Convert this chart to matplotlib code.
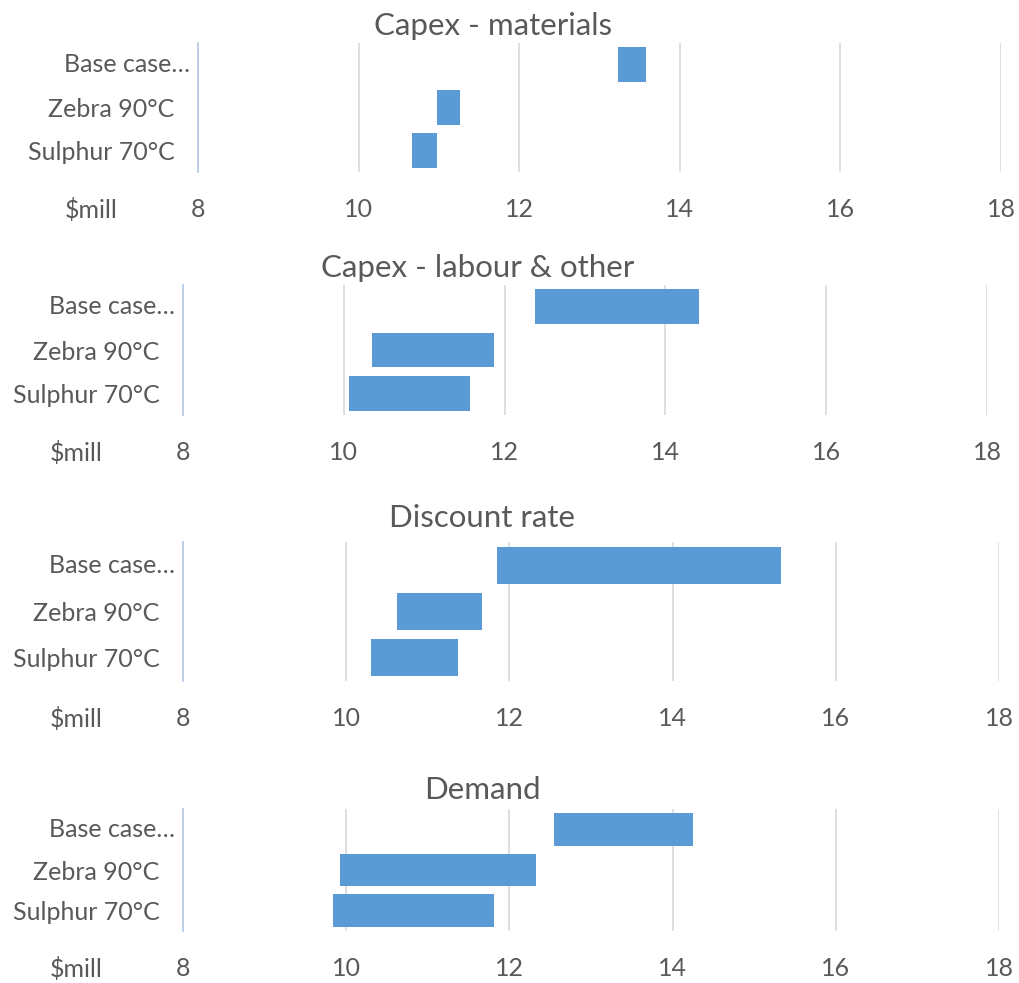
import matplotlib.pyplot as plt

plt.rcParams['font.family'] = ['Lato', 'DejaVu Sans']

categories = ['Base case…', 'Zebra 90°C', 'Sulphur 70°C']
titles = ['Capex - materials', 'Capex - labour & other', 'Discount rate', 'Demand']

# low / high ends of each bar, $mill, in category order
materials_low = [13.23, 10.98, 10.67]
materials_high = [13.58, 11.26, 10.98]
labour_low = [12.38, 10.35, 10.06]
labour_high = [14.42, 11.87, 11.57]
discount_low = [11.85, 10.62, 10.30]
discount_high = [15.33, 11.66, 11.37]
demand_low = [12.55, 9.92, 9.84]
demand_high = [14.25, 12.33, 11.81]

lows = [materials_low, labour_low, discount_low, demand_low]
highs = [materials_high, labour_high, discount_high, demand_high]
xticks = [8, 10, 12, 14, 16, 18]

text_col = '#595959'
bar_col = '#5B9BD5'

fig = plt.figure(figsize=(10.2, 9.83), dpi=100)

# axes rectangles (left, bottom, width, height) in figure fraction
rects = [
    (198 / 1020, 1 - 172 / 983, 803 / 1020, 129 / 983),
    (183 / 1020, 1 - 415 / 983, 804 / 1020, 130 / 983),
    (183 / 1020, 1 - 681 / 983, 816 / 1020, 139 / 983),
    (183 / 1020, 1 - 931 / 983, 816 / 1020, 122 / 983),
]
title_pads = [5.5, 6, 11, 7.5]

for i in range(4):
    ax = fig.add_axes(rects[i])
    y = list(range(len(categories)))
    widths = [h - l for l, h in zip(lows[i], highs[i])]
    ax.barh(y, widths, left=lows[i], height=0.8, color=bar_col)
    ax.set_ylim(len(categories) - 0.5, -0.5)
    ax.set_xlim(8, 18)
    ax.set_xticks(xticks)
    ax.set_yticks(y)
    # the truncated first label sits closer to the axis, like Excel does it
    ax.set_yticklabels([''] + categories[1:])
    ax.annotate(categories[0], xy=(0, y[0]), xycoords=('axes fraction', 'data'),
                xytext=(-8, 0), textcoords='offset pixels',
                ha='right', va='center', fontsize=18, color=text_col)
    ax.tick_params(axis='both', length=0, labelsize=18, labelcolor=text_col)
    ax.tick_params(axis='x', pad=19)
    ax.tick_params(axis='y', pad=17)
    ax.grid(axis='x', color='#D9D9D9', linewidth=1.2)
    ax.set_axisbelow(True)
    for s in ['top', 'right', 'bottom']:
        ax.spines[s].set_visible(False)
    ax.spines['left'].set_color('#B4C7E7')
    ax.spines['left'].set_linewidth(1.2)
    ax.set_title(titles[i], fontsize=22.5, color=text_col, x=0.367, pad=title_pads[i])
    ax.annotate('$mill', xy=(0, 0), xycoords='axes fraction',
                xytext=(-80, -38), textcoords='offset pixels',
                ha='right', va='center', fontsize=18, color=text_col)

fig.savefig('out.png', dpi=100)
